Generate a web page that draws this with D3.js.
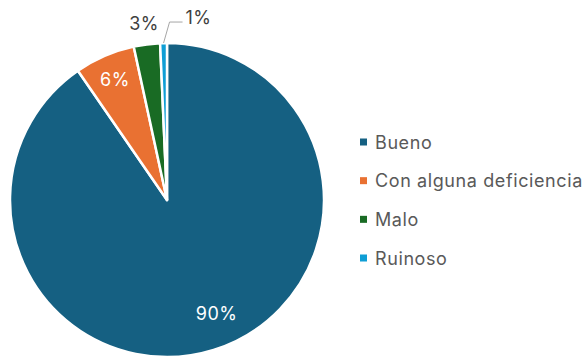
<!DOCTYPE html>
<html><head><meta charset="utf-8">
<script src="https://cdn.jsdelivr.net/npm/d3@7"></script>
<style>body{margin:0;background:#fff}svg{display:block}</style>
</head><body>
<svg id="c" width="584" height="361"></svg>
<script>
const categories = ["Bueno", "Con alguna deficiencia", "Malo", "Ruinoso"];
const values = [90.4, 6.2, 2.7, 0.7];
const labels = ["90%", "6%", "3%", "1%"];
const colors = ["#156082", "#E97132", "#196B24", "#0F9ED5"];

const svg = d3.select("#c");
const cx = 167, cy = 200, R = 157;
const font = "Inter, 'Open Sans', sans-serif";

const pie = d3.pie().sort(null).value(d => d)(values);
const arc = d3.arc().innerRadius(0).outerRadius(R);
const g = svg.append("g").attr("transform", `translate(${cx},${cy})`);

g.selectAll("path").data(pie).enter().append("path")
  .attr("d", arc)
  .attr("fill", (d, i) => colors[i])
  .attr("stroke", "#fff")
  .attr("stroke-width", 2.5)
  .attr("stroke-linejoin", "round");

function pt(angle, r) { return [r * Math.sin(angle), -r * Math.cos(angle)]; }
function lbl(x, y, t, fill, anchor) {
  g.append("text").attr("x", x).attr("y", y).attr("text-anchor", anchor || "middle")
    .attr("dominant-baseline", "central").attr("fill", fill)
    .attr("font-family", font).attr("font-size", 18).attr("letter-spacing", 0.5).text(t);
}

pie.forEach((d, i) => {
  const mid = (d.startAngle + d.endAngle) / 2;
  if (i === 0) {
    const [x, y] = pt(mid - 0.11, 124);
    lbl(x, y, labels[i], "#fff");
  } else if (i === 1) {
    const [x, y] = pt(mid, 131);
    lbl(x, y, labels[i], "#fff");
  } else if (i === 2) {
    const [x, y] = pt(mid, 178);
    lbl(x, y, labels[i], "#404040");
  } else {
    const [x0, y0] = pt(mid, R);
    const ly = y0 - 21;
    g.append("path").attr("d", `M${x0},${y0}L${x0 + 6},${ly}L${x0 + 19},${ly}`)
      .attr("fill", "none").attr("stroke", "#a6a6a6").attr("stroke-width", 1);
    lbl(x0 + 22, ly - 5, labels[i], "#404040", "start");
  }
});

const leg = svg.append("g").attr("transform", "translate(360,142)");
const rowY = d3.scalePoint().domain(categories).range([0, 116]);
const items = leg.selectAll("g").data(categories).enter().append("g")
  .attr("transform", d => `translate(0,${rowY(d)})`);
items.append("rect").attr("x", 0).attr("y", -3.5).attr("width", 7).attr("height", 7)
  .attr("fill", (d, i) => colors[i]);
items.append("text").attr("x", 15).attr("y", 0).attr("dominant-baseline", "central")
  .attr("fill", "#595959").attr("font-family", font).attr("font-size", 18)
  .attr("letter-spacing", 0.6).text(d => d);
</script>
</body></html>
